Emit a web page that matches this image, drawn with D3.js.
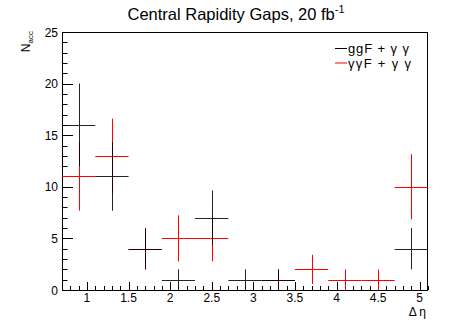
<!DOCTYPE html>
<html><head><meta charset="utf-8">
<script src="https://cdn.jsdelivr.net/npm/d3@7"></script>
<style>body{margin:0;background:#fff;} text{font-family:"Liberation Sans",Arial,sans-serif;}</style>
</head><body>
<svg id="c" width="475" height="323"></svg>
<script>
const binCenters = [0.9,1.3,1.7,2.1,2.5,2.9,3.3,3.7,4.1,4.5,4.9];
const binWidth = 0.4;
const ggF = [16,11,4,1,7,1,1,0,0,0,4];
const yyF = [11,13,4,5,5,0,1,2,1,1,10];
const seriesNames = ["ggF + \u03b3 \u03b3", "\u03b3\u03b3F + \u03b3 \u03b3"];
const seriesColors = ["#000000", "#ff0000"];
const xMajorTicks = [1,1.5,2,2.5,3,3.5,4,4.5,5];
const yMajorTicks = [0,5,10,15,20,25];

const svg = d3.select("#c");
const L=62, R=428, T=32, B=290;
const x = d3.scaleLinear().domain([0.7,5.1]).range([L,R]);
const y = d3.scaleLinear().domain([0,25]).range([B,T]);

svg.append("rect").attr("x",L+0.5).attr("y",T+0.5).attr("width",R-L-1).attr("height",B-T)
  .attr("fill","none").attr("stroke","#000").attr("stroke-width",1);

const yMinor = d3.range(0,26,1);
const gy = svg.append("g");
yMinor.forEach(v=>{
  const major = yMajorTicks.includes(v);
  const yy = Math.round(y(v))+0.5;
  gy.append("line").attr("x1",L).attr("x2",L+(major?11:5.5)).attr("y1",yy).attr("y2",yy)
    .attr("stroke","#000").attr("stroke-width",1);
});
yMajorTicks.forEach(v=>{
  gy.append("text").attr("x",58).attr("y",y(v)+4.5).attr("text-anchor","end")
    .attr("font-size",12).text(v);
});
const xMinor = d3.range(7,52,1).map(d=>d/10);
const gx = svg.append("g");
xMinor.forEach(v=>{
  const major = xMajorTicks.some(t=>Math.abs(t-v)<1e-9);
  const xx = Math.round(x(v))+0.5;
  gx.append("line").attr("x1",xx).attr("x2",xx).attr("y1",B).attr("y2",B-(major?8:4))
    .attr("stroke","#000").attr("stroke-width",1);
});
xMajorTicks.forEach(v=>{
  gx.append("text").attr("x",x(v)).attr("y",301.5).attr("text-anchor","middle")
    .attr("font-size",12).text(v);
});

const yt = svg.append("text").attr("transform","translate(30,31) rotate(-90)")
  .attr("text-anchor","end").attr("font-size",12);
yt.append("tspan").text("N");
yt.append("tspan").attr("font-size",8).attr("dy",3).text("acc");
svg.append("text").attr("x",426).attr("y",316).attr("text-anchor","end").attr("font-size",12)
  .text("\u0394 \u03b7");

const tt = svg.append("text").attr("x",236).attr("y",20).attr("text-anchor","middle").attr("font-size",16.5);
tt.append("tspan").text("Central Rapidity Gaps, 20 fb");
tt.append("tspan").attr("font-size",11).attr("dy",-7).text("-1");

function drawSeries(vals,color,op){
  const g = svg.append("g").attr("stroke",color).attr("stroke-width",1).attr("opacity",op);
  vals.forEach((v,i)=>{
    if(v<=0) return;
    const c = binCenters[i];
    const e = Math.sqrt(v);
    const yy = Math.round(y(v))+0.5;
    const xx = Math.round(x(c))+0.5;
    g.append("line").attr("x1",x(c-binWidth/2)).attr("x2",x(c+binWidth/2)).attr("y1",yy).attr("y2",yy);
    g.append("line").attr("x1",xx).attr("x2",xx).attr("y1",y(v+e)).attr("y2",y(Math.max(0,v-e)));
  });
}
drawSeries(yyF,seriesColors[1],1);
drawSeries(ggF,seriesColors[0],0.85);

const lg = svg.append("g");
seriesNames.forEach((n,i)=>{
  const ly = 48.5+i*14.5;
  lg.append("line").attr("x1",335).attr("x2",347).attr("y1",ly).attr("y2",ly)
    .attr("stroke",seriesColors[i]).attr("stroke-width",1);
  lg.append("text").attr("x",348).attr("y",ly+4.5).attr("font-size",13).attr("textLength",i==0?61:63)
    .attr("lengthAdjust","spacing").text(n);
});
</script>
</body></html>
